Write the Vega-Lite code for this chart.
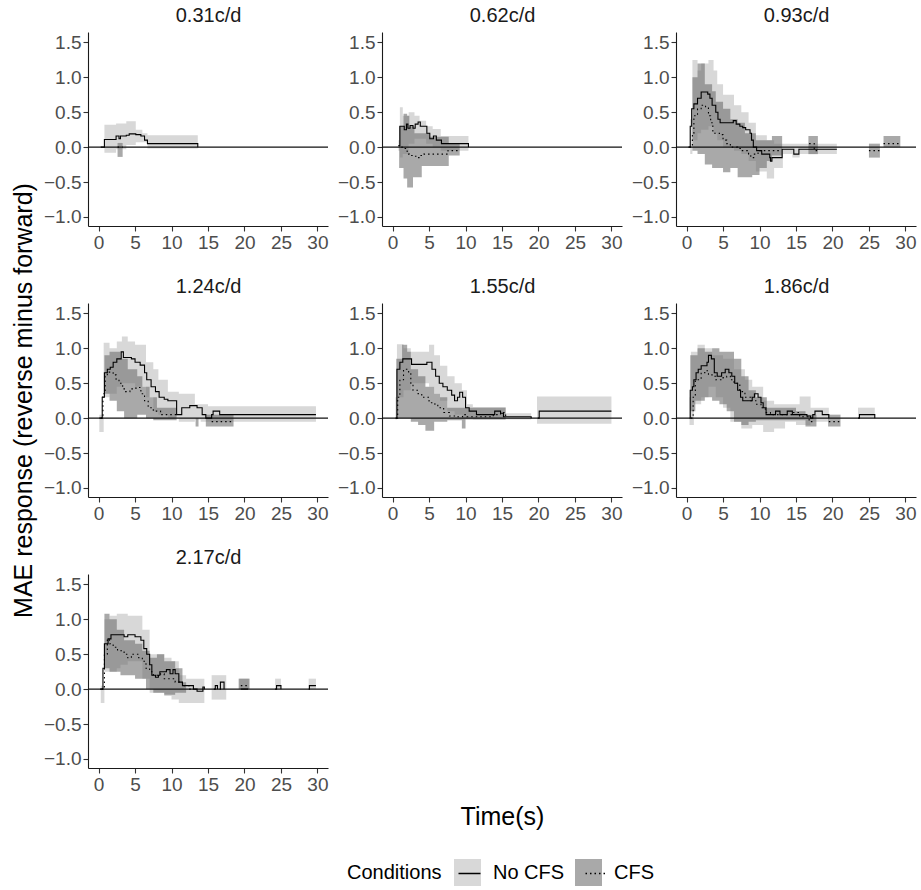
{
"$schema": "https://vega.github.io/schema/vega-lite/v6.json",
"padding": {"left": 11, "top": 5, "right": 2, "bottom": 3},
"config": {
  "font": "Liberation Sans",
  "view": {"stroke": null},
  "axis": {"grid": false, "domainColor": "#1a1a1a", "tickColor": "#333333", "tickSize": 5, "labelFontSize": 19, "labelColor": "#4d4d4d", "labelPadding": 2, "titleFontSize": 25, "titleFontWeight": "normal", "titleColor": "#000000", "domainWidth": 1.1, "tickWidth": 1.1, "tickCount": 12},
  "legend": {"orient": "none", "legendX": 259, "legendY": 827, "direction": "horizontal", "titleOrient": "left", "titleFontSize": 20, "titleFontWeight": "normal", "titleColor": "#000000", "labelFontSize": 20, "labelColor": "#000000", "symbolSize": 729, "columnPadding": 10, "labelOffset": 12, "titlePadding": 12}
},
"data": {"values": [
{"p":"0.31c/d","c":"No CFS","k":"l","s":1,"t":0.3,"m":0},{"p":"0.31c/d","c":"No CFS","k":"l","s":1,"t":0.8,"m":0.11},{"p":"0.31c/d","c":"No CFS","k":"l","s":1,"t":2.4,"m":0.16},{"p":"0.31c/d","c":"No CFS","k":"l","s":1,"t":2.8,"m":0.12},{"p":"0.31c/d","c":"No CFS","k":"l","s":1,"t":3.0,"m":0.16},{"p":"0.31c/d","c":"No CFS","k":"l","s":1,"t":3.8,"m":0.17},{"p":"0.31c/d","c":"No CFS","k":"l","s":1,"t":4.2,"m":0.19},{"p":"0.31c/d","c":"No CFS","k":"l","s":1,"t":5.1,"m":0.18},{"p":"0.31c/d","c":"No CFS","k":"l","s":1,"t":5.8,"m":0.16},{"p":"0.31c/d","c":"No CFS","k":"l","s":1,"t":6.3,"m":0.1},{"p":"0.31c/d","c":"No CFS","k":"l","s":1,"t":6.7,"m":0.05},{"p":"0.31c/d","c":"No CFS","k":"l","s":1,"t":13.6,"m":0},
{"p":"0.31c/d","c":"No CFS","k":"b","s":1,"t":0.8,"lo":-0.08,"hi":0.32},{"p":"0.31c/d","c":"No CFS","k":"b","s":1,"t":2.4,"lo":-0.03,"hi":0.34},{"p":"0.31c/d","c":"No CFS","k":"b","s":1,"t":3.8,"lo":0.03,"hi":0.37},{"p":"0.31c/d","c":"No CFS","k":"b","s":1,"t":5.1,"lo":0.07,"hi":0.25},{"p":"0.31c/d","c":"No CFS","k":"b","s":1,"t":6.0,"lo":0.07,"hi":0.2},{"p":"0.31c/d","c":"No CFS","k":"b","s":1,"t":6.7,"lo":-0.02,"hi":0.17},{"p":"0.31c/d","c":"No CFS","k":"b","s":1,"t":13.6,"lo":-0.02,"hi":0.17},
{"p":"0.31c/d","c":"CFS","k":"l","s":1,"t":2.6,"m":0},{"p":"0.31c/d","c":"CFS","k":"l","s":1,"t":3.3,"m":0},
{"p":"0.31c/d","c":"CFS","k":"b","s":1,"t":2.6,"lo":-0.14,"hi":0.06},{"p":"0.31c/d","c":"CFS","k":"b","s":1,"t":3.3,"lo":-0.14,"hi":0.06},

{"p":"0.62c/d","c":"No CFS","k":"l","s":1,"t":0.8,"m":0.02},{"p":"0.62c/d","c":"No CFS","k":"l","s":1,"t":1.0,"m":0.3},{"p":"0.62c/d","c":"No CFS","k":"l","s":1,"t":1.6,"m":0.25},{"p":"0.62c/d","c":"No CFS","k":"l","s":1,"t":1.9,"m":0.33},{"p":"0.62c/d","c":"No CFS","k":"l","s":1,"t":2.1,"m":0.27},{"p":"0.62c/d","c":"No CFS","k":"l","s":1,"t":2.4,"m":0.31},{"p":"0.62c/d","c":"No CFS","k":"l","s":1,"t":2.8,"m":0.27},{"p":"0.62c/d","c":"No CFS","k":"l","s":1,"t":3.1,"m":0.33},{"p":"0.62c/d","c":"No CFS","k":"l","s":1,"t":3.5,"m":0.36},{"p":"0.62c/d","c":"No CFS","k":"l","s":1,"t":3.8,"m":0.3},{"p":"0.62c/d","c":"No CFS","k":"l","s":1,"t":4.7,"m":0.2},{"p":"0.62c/d","c":"No CFS","k":"l","s":1,"t":5.1,"m":0.12},{"p":"0.62c/d","c":"No CFS","k":"l","s":1,"t":5.6,"m":0.16},{"p":"0.62c/d","c":"No CFS","k":"l","s":1,"t":6.0,"m":0.1},{"p":"0.62c/d","c":"No CFS","k":"l","s":1,"t":6.7,"m":0.05},{"p":"0.62c/d","c":"No CFS","k":"l","s":1,"t":10.4,"m":0},
{"p":"0.62c/d","c":"No CFS","k":"b","s":1,"t":0.8,"lo":-0.05,"hi":0.1},{"p":"0.62c/d","c":"No CFS","k":"b","s":1,"t":1.0,"lo":-0.15,"hi":0.57},{"p":"0.62c/d","c":"No CFS","k":"b","s":1,"t":1.4,"lo":-0.1,"hi":0.45},{"p":"0.62c/d","c":"No CFS","k":"b","s":1,"t":2.2,"lo":0.05,"hi":0.5},{"p":"0.62c/d","c":"No CFS","k":"b","s":1,"t":3.0,"lo":0.12,"hi":0.45},{"p":"0.62c/d","c":"No CFS","k":"b","s":1,"t":3.7,"lo":0.12,"hi":0.38},{"p":"0.62c/d","c":"No CFS","k":"b","s":1,"t":4.6,"lo":0.05,"hi":0.3},{"p":"0.62c/d","c":"No CFS","k":"b","s":1,"t":5.5,"lo":0.0,"hi":0.26},{"p":"0.62c/d","c":"No CFS","k":"b","s":1,"t":6.6,"lo":-0.05,"hi":0.16},{"p":"0.62c/d","c":"No CFS","k":"b","s":1,"t":10.4,"lo":-0.05,"hi":0.16},
{"p":"0.62c/d","c":"CFS","k":"l","s":1,"t":0.8,"m":0.02},{"p":"0.62c/d","c":"CFS","k":"l","s":1,"t":1.3,"m":-0.02},{"p":"0.62c/d","c":"CFS","k":"l","s":1,"t":2.0,"m":-0.1},{"p":"0.62c/d","c":"CFS","k":"l","s":1,"t":2.3,"m":-0.12},{"p":"0.62c/d","c":"CFS","k":"l","s":1,"t":3.0,"m":-0.13},{"p":"0.62c/d","c":"CFS","k":"l","s":1,"t":3.4,"m":-0.15},{"p":"0.62c/d","c":"CFS","k":"l","s":1,"t":3.8,"m":-0.12},{"p":"0.62c/d","c":"CFS","k":"l","s":1,"t":4.3,"m":-0.1},{"p":"0.62c/d","c":"CFS","k":"l","s":1,"t":7.6,"m":-0.05},{"p":"0.62c/d","c":"CFS","k":"l","s":1,"t":9.2,"m":-0.05},
{"p":"0.62c/d","c":"CFS","k":"b","s":1,"t":0.9,"lo":-0.3,"hi":0.3},{"p":"0.62c/d","c":"CFS","k":"b","s":1,"t":1.5,"lo":-0.45,"hi":0.48},{"p":"0.62c/d","c":"CFS","k":"b","s":1,"t":2.0,"lo":-0.58,"hi":0.45},{"p":"0.62c/d","c":"CFS","k":"b","s":1,"t":2.3,"lo":-0.58,"hi":0.3},{"p":"0.62c/d","c":"CFS","k":"b","s":1,"t":2.8,"lo":-0.43,"hi":0.3},{"p":"0.62c/d","c":"CFS","k":"b","s":1,"t":3.0,"lo":-0.43,"hi":0.2},{"p":"0.62c/d","c":"CFS","k":"b","s":1,"t":4.0,"lo":-0.27,"hi":0.2},{"p":"0.62c/d","c":"CFS","k":"b","s":1,"t":5.0,"lo":-0.27,"hi":0.15},{"p":"0.62c/d","c":"CFS","k":"b","s":1,"t":7.7,"lo":-0.12,"hi":0.05},{"p":"0.62c/d","c":"CFS","k":"b","s":1,"t":9.2,"lo":-0.12,"hi":0.05},

{"p":"0.93c/d","c":"No CFS","k":"l","s":1,"t":0.25,"m":0},{"p":"0.93c/d","c":"No CFS","k":"l","s":1,"t":0.5,"m":0.3},{"p":"0.93c/d","c":"No CFS","k":"l","s":1,"t":0.7,"m":0.55},{"p":"0.93c/d","c":"No CFS","k":"l","s":1,"t":1.0,"m":0.62},{"p":"0.93c/d","c":"No CFS","k":"l","s":1,"t":1.5,"m":0.7},{"p":"0.93c/d","c":"No CFS","k":"l","s":1,"t":2.0,"m":0.79},{"p":"0.93c/d","c":"No CFS","k":"l","s":1,"t":2.9,"m":0.76},{"p":"0.93c/d","c":"No CFS","k":"l","s":1,"t":3.2,"m":0.7},{"p":"0.93c/d","c":"No CFS","k":"l","s":1,"t":3.5,"m":0.6},{"p":"0.93c/d","c":"No CFS","k":"l","s":1,"t":4.0,"m":0.5},{"p":"0.93c/d","c":"No CFS","k":"l","s":1,"t":4.3,"m":0.4},{"p":"0.93c/d","c":"No CFS","k":"l","s":1,"t":4.6,"m":0.35},{"p":"0.93c/d","c":"No CFS","k":"l","s":1,"t":6.4,"m":0.38},{"p":"0.93c/d","c":"No CFS","k":"l","s":1,"t":6.8,"m":0.33},{"p":"0.93c/d","c":"No CFS","k":"l","s":1,"t":7.3,"m":0.3},{"p":"0.93c/d","c":"No CFS","k":"l","s":1,"t":7.7,"m":0.28},{"p":"0.93c/d","c":"No CFS","k":"l","s":1,"t":8.1,"m":0.25},{"p":"0.93c/d","c":"No CFS","k":"l","s":1,"t":8.7,"m":0.2},{"p":"0.93c/d","c":"No CFS","k":"l","s":1,"t":8.9,"m":0.1},{"p":"0.93c/d","c":"No CFS","k":"l","s":1,"t":9.15,"m":0.0},{"p":"0.93c/d","c":"No CFS","k":"l","s":1,"t":9.6,"m":-0.05},{"p":"0.93c/d","c":"No CFS","k":"l","s":1,"t":10.3,"m":-0.1},{"p":"0.93c/d","c":"No CFS","k":"l","s":1,"t":11.4,"m":-0.15},{"p":"0.93c/d","c":"No CFS","k":"l","s":1,"t":11.5,"m":-0.2},{"p":"0.93c/d","c":"No CFS","k":"l","s":1,"t":11.7,"m":-0.15},{"p":"0.93c/d","c":"No CFS","k":"l","s":1,"t":13.1,"m":-0.03},{"p":"0.93c/d","c":"No CFS","k":"l","s":1,"t":14.7,"m":-0.1},{"p":"0.93c/d","c":"No CFS","k":"l","s":1,"t":15.4,"m":-0.03},{"p":"0.93c/d","c":"No CFS","k":"l","s":1,"t":20.6,"m":-0.03},
{"p":"0.93c/d","c":"No CFS","k":"b","s":1,"t":0.5,"lo":-0.1,"hi":0.4},{"p":"0.93c/d","c":"No CFS","k":"b","s":1,"t":0.8,"lo":0.1,"hi":1.25},{"p":"0.93c/d","c":"No CFS","k":"b","s":1,"t":1.5,"lo":0.2,"hi":1.1},{"p":"0.93c/d","c":"No CFS","k":"b","s":1,"t":2.0,"lo":0.25,"hi":1.2},{"p":"0.93c/d","c":"No CFS","k":"b","s":1,"t":3.0,"lo":0.3,"hi":1.25},{"p":"0.93c/d","c":"No CFS","k":"b","s":1,"t":3.7,"lo":0.2,"hi":1.1},{"p":"0.93c/d","c":"No CFS","k":"b","s":1,"t":4.2,"lo":0.1,"hi":0.9},{"p":"0.93c/d","c":"No CFS","k":"b","s":1,"t":5.0,"lo":0.0,"hi":0.75},{"p":"0.93c/d","c":"No CFS","k":"b","s":1,"t":6.5,"lo":-0.05,"hi":0.6},{"p":"0.93c/d","c":"No CFS","k":"b","s":1,"t":7.5,"lo":-0.1,"hi":0.5},{"p":"0.93c/d","c":"No CFS","k":"b","s":1,"t":8.5,"lo":-0.2,"hi":0.35},{"p":"0.93c/d","c":"No CFS","k":"b","s":1,"t":9.5,"lo":-0.35,"hi":0.17},{"p":"0.93c/d","c":"No CFS","k":"b","s":1,"t":11.0,"lo":-0.45,"hi":0.1},{"p":"0.93c/d","c":"No CFS","k":"b","s":1,"t":12.0,"lo":-0.3,"hi":0.05},{"p":"0.93c/d","c":"No CFS","k":"b","s":1,"t":13.2,"lo":-0.1,"hi":0.05},{"p":"0.93c/d","c":"No CFS","k":"b","s":1,"t":14.5,"lo":-0.15,"hi":0.05},{"p":"0.93c/d","c":"No CFS","k":"b","s":1,"t":15.5,"lo":-0.1,"hi":0.05},{"p":"0.93c/d","c":"No CFS","k":"b","s":1,"t":20.6,"lo":-0.1,"hi":0.05},
{"p":"0.93c/d","c":"CFS","k":"l","s":1,"t":0.4,"m":0},{"p":"0.93c/d","c":"CFS","k":"l","s":1,"t":0.8,"m":0.2},{"p":"0.93c/d","c":"CFS","k":"l","s":1,"t":1.0,"m":0.45},{"p":"0.93c/d","c":"CFS","k":"l","s":1,"t":1.5,"m":0.55},{"p":"0.93c/d","c":"CFS","k":"l","s":1,"t":2.0,"m":0.6},{"p":"0.93c/d","c":"CFS","k":"l","s":1,"t":2.6,"m":0.57},{"p":"0.93c/d","c":"CFS","k":"l","s":1,"t":3.0,"m":0.45},{"p":"0.93c/d","c":"CFS","k":"l","s":1,"t":3.3,"m":0.35},{"p":"0.93c/d","c":"CFS","k":"l","s":1,"t":3.6,"m":0.2},{"p":"0.93c/d","c":"CFS","k":"l","s":1,"t":4.5,"m":0.18},{"p":"0.93c/d","c":"CFS","k":"l","s":1,"t":5.0,"m":0.1},{"p":"0.93c/d","c":"CFS","k":"l","s":1,"t":5.5,"m":0.05},{"p":"0.93c/d","c":"CFS","k":"l","s":1,"t":6.0,"m":0.0},{"p":"0.93c/d","c":"CFS","k":"l","s":1,"t":7.0,"m":-0.02},{"p":"0.93c/d","c":"CFS","k":"l","s":1,"t":7.5,"m":-0.05},{"p":"0.93c/d","c":"CFS","k":"l","s":1,"t":8.5,"m":-0.1},{"p":"0.93c/d","c":"CFS","k":"l","s":1,"t":8.8,"m":-0.15},{"p":"0.93c/d","c":"CFS","k":"l","s":1,"t":9.2,"m":-0.1},{"p":"0.93c/d","c":"CFS","k":"l","s":1,"t":9.8,"m":-0.05},{"p":"0.93c/d","c":"CFS","k":"l","s":1,"t":13.0,"m":-0.05},
{"p":"0.93c/d","c":"CFS","k":"l","s":2,"t":16.8,"m":0.05},{"p":"0.93c/d","c":"CFS","k":"l","s":2,"t":17.5,"m":-0.05},{"p":"0.93c/d","c":"CFS","k":"l","s":2,"t":18.0,"m":-0.05},
{"p":"0.93c/d","c":"CFS","k":"l","s":3,"t":25.0,"m":-0.05},{"p":"0.93c/d","c":"CFS","k":"l","s":3,"t":26.5,"m":-0.05},
{"p":"0.93c/d","c":"CFS","k":"l","s":4,"t":27.0,"m":0.05},{"p":"0.93c/d","c":"CFS","k":"l","s":4,"t":29.3,"m":0.05},
{"p":"0.93c/d","c":"CFS","k":"b","s":1,"t":0.8,"lo":-0.05,"hi":1.0},{"p":"0.93c/d","c":"CFS","k":"b","s":1,"t":1.5,"lo":-0.1,"hi":1.2},{"p":"0.93c/d","c":"CFS","k":"b","s":1,"t":2.5,"lo":-0.25,"hi":0.9},{"p":"0.93c/d","c":"CFS","k":"b","s":1,"t":3.5,"lo":-0.3,"hi":0.8},{"p":"0.93c/d","c":"CFS","k":"b","s":1,"t":4.0,"lo":-0.3,"hi":0.65},{"p":"0.93c/d","c":"CFS","k":"b","s":1,"t":5.0,"lo":-0.36,"hi":0.55},{"p":"0.93c/d","c":"CFS","k":"b","s":1,"t":6.0,"lo":-0.3,"hi":0.4},{"p":"0.93c/d","c":"CFS","k":"b","s":1,"t":7.0,"lo":-0.43,"hi":0.35},{"p":"0.93c/d","c":"CFS","k":"b","s":1,"t":8.0,"lo":-0.43,"hi":0.2},{"p":"0.93c/d","c":"CFS","k":"b","s":1,"t":9.0,"lo":-0.4,"hi":0.2},{"p":"0.93c/d","c":"CFS","k":"b","s":1,"t":9.5,"lo":-0.4,"hi":0.1},{"p":"0.93c/d","c":"CFS","k":"b","s":1,"t":10.0,"lo":-0.3,"hi":0.1},{"p":"0.93c/d","c":"CFS","k":"b","s":1,"t":11.0,"lo":-0.2,"hi":0.1},{"p":"0.93c/d","c":"CFS","k":"b","s":1,"t":11.7,"lo":-0.12,"hi":0.16},{"p":"0.93c/d","c":"CFS","k":"b","s":1,"t":13.1,"lo":-0.12,"hi":0.16},
{"p":"0.93c/d","c":"CFS","k":"b","s":2,"t":16.7,"lo":-0.1,"hi":0.16},{"p":"0.93c/d","c":"CFS","k":"b","s":2,"t":18.0,"lo":-0.1,"hi":0.16},
{"p":"0.93c/d","c":"CFS","k":"b","s":3,"t":25.0,"lo":-0.15,"hi":0.05},{"p":"0.93c/d","c":"CFS","k":"b","s":3,"t":26.5,"lo":-0.15,"hi":0.05},
{"p":"0.93c/d","c":"CFS","k":"b","s":4,"t":27.0,"lo":0.0,"hi":0.16},{"p":"0.93c/d","c":"CFS","k":"b","s":4,"t":29.3,"lo":0.0,"hi":0.16},

{"p":"1.24c/d","c":"No CFS","k":"l","s":1,"t":0.1,"m":0},{"p":"1.24c/d","c":"No CFS","k":"l","s":1,"t":0.5,"m":0.3},{"p":"1.24c/d","c":"No CFS","k":"l","s":1,"t":0.8,"m":0.65},{"p":"1.24c/d","c":"No CFS","k":"l","s":1,"t":1.2,"m":0.7},{"p":"1.24c/d","c":"No CFS","k":"l","s":1,"t":1.6,"m":0.73},{"p":"1.24c/d","c":"No CFS","k":"l","s":1,"t":2.0,"m":0.8},{"p":"1.24c/d","c":"No CFS","k":"l","s":1,"t":2.5,"m":0.85},{"p":"1.24c/d","c":"No CFS","k":"l","s":1,"t":3.1,"m":0.95},{"p":"1.24c/d","c":"No CFS","k":"l","s":1,"t":3.4,"m":0.87},{"p":"1.24c/d","c":"No CFS","k":"l","s":1,"t":4.5,"m":0.85},{"p":"1.24c/d","c":"No CFS","k":"l","s":1,"t":5.0,"m":0.8},{"p":"1.24c/d","c":"No CFS","k":"l","s":1,"t":5.7,"m":0.76},{"p":"1.24c/d","c":"No CFS","k":"l","s":1,"t":6.3,"m":0.65},{"p":"1.24c/d","c":"No CFS","k":"l","s":1,"t":6.6,"m":0.55},{"p":"1.24c/d","c":"No CFS","k":"l","s":1,"t":7.2,"m":0.45},{"p":"1.24c/d","c":"No CFS","k":"l","s":1,"t":7.8,"m":0.38},{"p":"1.24c/d","c":"No CFS","k":"l","s":1,"t":8.3,"m":0.3},{"p":"1.24c/d","c":"No CFS","k":"l","s":1,"t":9.0,"m":0.27},{"p":"1.24c/d","c":"No CFS","k":"l","s":1,"t":9.5,"m":0.25},{"p":"1.24c/d","c":"No CFS","k":"l","s":1,"t":10.7,"m":0.05},{"p":"1.24c/d","c":"No CFS","k":"l","s":1,"t":11.4,"m":0.15},{"p":"1.24c/d","c":"No CFS","k":"l","s":1,"t":12.5,"m":0.18},{"p":"1.24c/d","c":"No CFS","k":"l","s":1,"t":13.5,"m":0.15},{"p":"1.24c/d","c":"No CFS","k":"l","s":1,"t":14.2,"m":0.05},{"p":"1.24c/d","c":"No CFS","k":"l","s":1,"t":14.7,"m":0.0},{"p":"1.24c/d","c":"No CFS","k":"l","s":1,"t":15.5,"m":0.05},{"p":"1.24c/d","c":"No CFS","k":"l","s":1,"t":15.7,"m":0.1},{"p":"1.24c/d","c":"No CFS","k":"l","s":1,"t":16.6,"m":0.05},{"p":"1.24c/d","c":"No CFS","k":"l","s":1,"t":29.8,"m":0.05},
{"p":"1.24c/d","c":"No CFS","k":"b","s":1,"t":0.1,"lo":-0.2,"hi":0.05},{"p":"1.24c/d","c":"No CFS","k":"b","s":1,"t":0.7,"lo":0.3,"hi":1.08},{"p":"1.24c/d","c":"No CFS","k":"b","s":1,"t":1.5,"lo":0.35,"hi":1.0},{"p":"1.24c/d","c":"No CFS","k":"b","s":1,"t":2.5,"lo":0.45,"hi":1.1},{"p":"1.24c/d","c":"No CFS","k":"b","s":1,"t":3.2,"lo":0.5,"hi":1.17},{"p":"1.24c/d","c":"No CFS","k":"b","s":1,"t":4.0,"lo":0.5,"hi":1.1},{"p":"1.24c/d","c":"No CFS","k":"b","s":1,"t":5.0,"lo":0.45,"hi":1.05},{"p":"1.24c/d","c":"No CFS","k":"b","s":1,"t":6.5,"lo":0.3,"hi":0.8},{"p":"1.24c/d","c":"No CFS","k":"b","s":1,"t":7.5,"lo":0.1,"hi":0.7},{"p":"1.24c/d","c":"No CFS","k":"b","s":1,"t":8.2,"lo":0.05,"hi":0.55},{"p":"1.24c/d","c":"No CFS","k":"b","s":1,"t":9.5,"lo":0.0,"hi":0.38},{"p":"1.24c/d","c":"No CFS","k":"b","s":1,"t":11.0,"lo":-0.05,"hi":0.35},{"p":"1.24c/d","c":"No CFS","k":"b","s":1,"t":13.2,"lo":-0.02,"hi":0.2},{"p":"1.24c/d","c":"No CFS","k":"b","s":1,"t":14.0,"lo":-0.05,"hi":0.2},{"p":"1.24c/d","c":"No CFS","k":"b","s":1,"t":15.0,"lo":-0.05,"hi":0.17},{"p":"1.24c/d","c":"No CFS","k":"b","s":1,"t":29.8,"lo":-0.05,"hi":0.17},
{"p":"1.24c/d","c":"CFS","k":"l","s":1,"t":0.3,"m":0},{"p":"1.24c/d","c":"CFS","k":"l","s":1,"t":0.6,"m":0.35},{"p":"1.24c/d","c":"CFS","k":"l","s":1,"t":0.9,"m":0.6},{"p":"1.24c/d","c":"CFS","k":"l","s":1,"t":1.2,"m":0.66},{"p":"1.24c/d","c":"CFS","k":"l","s":1,"t":2.0,"m":0.62},{"p":"1.24c/d","c":"CFS","k":"l","s":1,"t":2.4,"m":0.55},{"p":"1.24c/d","c":"CFS","k":"l","s":1,"t":2.8,"m":0.5},{"p":"1.24c/d","c":"CFS","k":"l","s":1,"t":3.3,"m":0.42},{"p":"1.24c/d","c":"CFS","k":"l","s":1,"t":3.7,"m":0.38},{"p":"1.24c/d","c":"CFS","k":"l","s":1,"t":4.3,"m":0.42},{"p":"1.24c/d","c":"CFS","k":"l","s":1,"t":4.8,"m":0.43},{"p":"1.24c/d","c":"CFS","k":"l","s":1,"t":5.3,"m":0.44},{"p":"1.24c/d","c":"CFS","k":"l","s":1,"t":5.8,"m":0.35},{"p":"1.24c/d","c":"CFS","k":"l","s":1,"t":6.3,"m":0.25},{"p":"1.24c/d","c":"CFS","k":"l","s":1,"t":6.8,"m":0.15},{"p":"1.24c/d","c":"CFS","k":"l","s":1,"t":7.5,"m":0.1},{"p":"1.24c/d","c":"CFS","k":"l","s":1,"t":8.5,"m":0.05},{"p":"1.24c/d","c":"CFS","k":"l","s":1,"t":10.7,"m":0.05},
{"p":"1.24c/d","c":"CFS","k":"l","s":2,"t":15.5,"m":-0.05},{"p":"1.24c/d","c":"CFS","k":"l","s":2,"t":18.3,"m":-0.05},
{"p":"1.24c/d","c":"CFS","k":"b","s":1,"t":0.8,"lo":0.35,"hi":0.9},{"p":"1.24c/d","c":"CFS","k":"b","s":1,"t":1.5,"lo":0.25,"hi":0.95},{"p":"1.24c/d","c":"CFS","k":"b","s":1,"t":2.5,"lo":0.1,"hi":0.95},{"p":"1.24c/d","c":"CFS","k":"b","s":1,"t":3.0,"lo":0.1,"hi":0.85},{"p":"1.24c/d","c":"CFS","k":"b","s":1,"t":3.5,"lo":0.0,"hi":0.85},{"p":"1.24c/d","c":"CFS","k":"b","s":1,"t":4.0,"lo":0.0,"hi":0.7},{"p":"1.24c/d","c":"CFS","k":"b","s":1,"t":5.3,"lo":0.05,"hi":0.6},{"p":"1.24c/d","c":"CFS","k":"b","s":1,"t":6.0,"lo":0.05,"hi":0.45},{"p":"1.24c/d","c":"CFS","k":"b","s":1,"t":6.5,"lo":0.0,"hi":0.45},{"p":"1.24c/d","c":"CFS","k":"b","s":1,"t":7.0,"lo":0.0,"hi":0.3},{"p":"1.24c/d","c":"CFS","k":"b","s":1,"t":7.5,"lo":-0.03,"hi":0.3},{"p":"1.24c/d","c":"CFS","k":"b","s":1,"t":8.0,"lo":-0.03,"hi":0.15},{"p":"1.24c/d","c":"CFS","k":"b","s":1,"t":10.7,"lo":-0.03,"hi":0.15},
{"p":"1.24c/d","c":"CFS","k":"b","s":2,"t":13.3,"lo":-0.12,"hi":0.0},{"p":"1.24c/d","c":"CFS","k":"b","s":2,"t":13.7,"lo":-0.12,"hi":0.0},
{"p":"1.24c/d","c":"CFS","k":"b","s":3,"t":14.7,"lo":-0.12,"hi":0.05},{"p":"1.24c/d","c":"CFS","k":"b","s":3,"t":18.5,"lo":-0.12,"hi":0.05},

{"p":"1.55c/d","c":"No CFS","k":"l","s":1,"t":0.4,"m":0},{"p":"1.55c/d","c":"No CFS","k":"l","s":1,"t":0.6,"m":0.7},{"p":"1.55c/d","c":"No CFS","k":"l","s":1,"t":1.0,"m":0.8},{"p":"1.55c/d","c":"No CFS","k":"l","s":1,"t":1.4,"m":0.85},{"p":"1.55c/d","c":"No CFS","k":"l","s":1,"t":2.6,"m":0.77},{"p":"1.55c/d","c":"No CFS","k":"l","s":1,"t":4.7,"m":0.8},{"p":"1.55c/d","c":"No CFS","k":"l","s":1,"t":5.4,"m":0.7},{"p":"1.55c/d","c":"No CFS","k":"l","s":1,"t":5.9,"m":0.6},{"p":"1.55c/d","c":"No CFS","k":"l","s":1,"t":6.4,"m":0.5},{"p":"1.55c/d","c":"No CFS","k":"l","s":1,"t":6.9,"m":0.45},{"p":"1.55c/d","c":"No CFS","k":"l","s":1,"t":7.5,"m":0.4},{"p":"1.55c/d","c":"No CFS","k":"l","s":1,"t":8.1,"m":0.33},{"p":"1.55c/d","c":"No CFS","k":"l","s":1,"t":8.5,"m":0.25},{"p":"1.55c/d","c":"No CFS","k":"l","s":1,"t":8.9,"m":0.3},{"p":"1.55c/d","c":"No CFS","k":"l","s":1,"t":9.2,"m":0.37},{"p":"1.55c/d","c":"No CFS","k":"l","s":1,"t":9.6,"m":0.3},{"p":"1.55c/d","c":"No CFS","k":"l","s":1,"t":10.0,"m":0.15},{"p":"1.55c/d","c":"No CFS","k":"l","s":1,"t":10.5,"m":0.1},{"p":"1.55c/d","c":"No CFS","k":"l","s":1,"t":11.5,"m":0.05},{"p":"1.55c/d","c":"No CFS","k":"l","s":1,"t":13.5,"m":0.05},{"p":"1.55c/d","c":"No CFS","k":"l","s":1,"t":14.0,"m":0.1},{"p":"1.55c/d","c":"No CFS","k":"l","s":1,"t":14.8,"m":0.07},{"p":"1.55c/d","c":"No CFS","k":"l","s":1,"t":15.2,"m":0.02},{"p":"1.55c/d","c":"No CFS","k":"l","s":1,"t":19.0,"m":0},
{"p":"1.55c/d","c":"No CFS","k":"l","s":2,"t":19.9,"m":0},{"p":"1.55c/d","c":"No CFS","k":"l","s":2,"t":20.1,"m":0.1},{"p":"1.55c/d","c":"No CFS","k":"l","s":2,"t":30.0,"m":0.1},
{"p":"1.55c/d","c":"No CFS","k":"b","s":1,"t":0.4,"lo":-0.02,"hi":0.3},{"p":"1.55c/d","c":"No CFS","k":"b","s":1,"t":0.6,"lo":0.3,"hi":1.06},{"p":"1.55c/d","c":"No CFS","k":"b","s":1,"t":1.5,"lo":0.4,"hi":1.0},{"p":"1.55c/d","c":"No CFS","k":"b","s":1,"t":2.5,"lo":0.5,"hi":0.95},{"p":"1.55c/d","c":"No CFS","k":"b","s":1,"t":5.0,"lo":0.45,"hi":1.05},{"p":"1.55c/d","c":"No CFS","k":"b","s":1,"t":5.7,"lo":0.35,"hi":0.9},{"p":"1.55c/d","c":"No CFS","k":"b","s":1,"t":6.5,"lo":0.25,"hi":0.75},{"p":"1.55c/d","c":"No CFS","k":"b","s":1,"t":7.5,"lo":0.1,"hi":0.6},{"p":"1.55c/d","c":"No CFS","k":"b","s":1,"t":8.5,"lo":0.05,"hi":0.5},{"p":"1.55c/d","c":"No CFS","k":"b","s":1,"t":9.5,"lo":0.0,"hi":0.4},{"p":"1.55c/d","c":"No CFS","k":"b","s":1,"t":10.2,"lo":0.0,"hi":0.2},{"p":"1.55c/d","c":"No CFS","k":"b","s":1,"t":11.0,"lo":-0.02,"hi":0.16},{"p":"1.55c/d","c":"No CFS","k":"b","s":1,"t":15.5,"lo":-0.02,"hi":0.07},{"p":"1.55c/d","c":"No CFS","k":"b","s":1,"t":19.0,"lo":-0.02,"hi":0.07},
{"p":"1.55c/d","c":"No CFS","k":"b","s":2,"t":19.8,"lo":-0.08,"hi":0.31},{"p":"1.55c/d","c":"No CFS","k":"b","s":2,"t":30.0,"lo":-0.08,"hi":0.31},
{"p":"1.55c/d","c":"CFS","k":"l","s":1,"t":0.5,"m":0},{"p":"1.55c/d","c":"CFS","k":"l","s":1,"t":0.7,"m":0.3},{"p":"1.55c/d","c":"CFS","k":"l","s":1,"t":1.0,"m":0.55},{"p":"1.55c/d","c":"CFS","k":"l","s":1,"t":1.5,"m":0.7},{"p":"1.55c/d","c":"CFS","k":"l","s":1,"t":2.2,"m":0.65},{"p":"1.55c/d","c":"CFS","k":"l","s":1,"t":2.5,"m":0.5},{"p":"1.55c/d","c":"CFS","k":"l","s":1,"t":2.8,"m":0.4},{"p":"1.55c/d","c":"CFS","k":"l","s":1,"t":3.5,"m":0.35},{"p":"1.55c/d","c":"CFS","k":"l","s":1,"t":4.0,"m":0.3},{"p":"1.55c/d","c":"CFS","k":"l","s":1,"t":5.0,"m":0.22},{"p":"1.55c/d","c":"CFS","k":"l","s":1,"t":5.8,"m":0.2},{"p":"1.55c/d","c":"CFS","k":"l","s":1,"t":6.2,"m":0.15},{"p":"1.55c/d","c":"CFS","k":"l","s":1,"t":7.0,"m":0.08},{"p":"1.55c/d","c":"CFS","k":"l","s":1,"t":7.8,"m":0.03},{"p":"1.55c/d","c":"CFS","k":"l","s":1,"t":8.8,"m":0.02},{"p":"1.55c/d","c":"CFS","k":"l","s":1,"t":9.6,"m":0.05},{"p":"1.55c/d","c":"CFS","k":"l","s":1,"t":10.2,"m":0.02},{"p":"1.55c/d","c":"CFS","k":"l","s":1,"t":13.8,"m":0.05},{"p":"1.55c/d","c":"CFS","k":"l","s":1,"t":14.8,"m":0.08},{"p":"1.55c/d","c":"CFS","k":"l","s":1,"t":15.5,"m":0.02},
{"p":"1.55c/d","c":"CFS","k":"b","s":1,"t":0.5,"lo":0.0,"hi":0.85},{"p":"1.55c/d","c":"CFS","k":"b","s":1,"t":1.3,"lo":0.0,"hi":1.05},{"p":"1.55c/d","c":"CFS","k":"b","s":1,"t":2.0,"lo":0.0,"hi":0.95},{"p":"1.55c/d","c":"CFS","k":"b","s":1,"t":2.5,"lo":-0.05,"hi":0.7},{"p":"1.55c/d","c":"CFS","k":"b","s":1,"t":3.5,"lo":-0.1,"hi":0.6},{"p":"1.55c/d","c":"CFS","k":"b","s":1,"t":4.5,"lo":-0.18,"hi":0.45},{"p":"1.55c/d","c":"CFS","k":"b","s":1,"t":5.7,"lo":-0.05,"hi":0.35},{"p":"1.55c/d","c":"CFS","k":"b","s":1,"t":6.5,"lo":-0.05,"hi":0.3},{"p":"1.55c/d","c":"CFS","k":"b","s":1,"t":7.5,"lo":-0.03,"hi":0.15},{"p":"1.55c/d","c":"CFS","k":"b","s":1,"t":9.5,"lo":-0.15,"hi":0.15},{"p":"1.55c/d","c":"CFS","k":"b","s":1,"t":10.0,"lo":-0.02,"hi":0.15},{"p":"1.55c/d","c":"CFS","k":"b","s":1,"t":15.5,"lo":-0.02,"hi":0.15},

{"p":"1.86c/d","c":"No CFS","k":"l","s":1,"t":0.4,"m":0},{"p":"1.86c/d","c":"No CFS","k":"l","s":1,"t":0.5,"m":0.4},{"p":"1.86c/d","c":"No CFS","k":"l","s":1,"t":0.8,"m":0.45},{"p":"1.86c/d","c":"No CFS","k":"l","s":1,"t":1.0,"m":0.55},{"p":"1.86c/d","c":"No CFS","k":"l","s":1,"t":1.3,"m":0.65},{"p":"1.86c/d","c":"No CFS","k":"l","s":1,"t":1.6,"m":0.7},{"p":"1.86c/d","c":"No CFS","k":"l","s":1,"t":2.0,"m":0.75},{"p":"1.86c/d","c":"No CFS","k":"l","s":1,"t":2.8,"m":0.8},{"p":"1.86c/d","c":"No CFS","k":"l","s":1,"t":3.0,"m":0.9},{"p":"1.86c/d","c":"No CFS","k":"l","s":1,"t":3.4,"m":0.85},{"p":"1.86c/d","c":"No CFS","k":"l","s":1,"t":3.8,"m":0.65},{"p":"1.86c/d","c":"No CFS","k":"l","s":1,"t":4.2,"m":0.6},{"p":"1.86c/d","c":"No CFS","k":"l","s":1,"t":4.8,"m":0.65},{"p":"1.86c/d","c":"No CFS","k":"l","s":1,"t":5.3,"m":0.7},{"p":"1.86c/d","c":"No CFS","k":"l","s":1,"t":5.8,"m":0.65},{"p":"1.86c/d","c":"No CFS","k":"l","s":1,"t":6.2,"m":0.6},{"p":"1.86c/d","c":"No CFS","k":"l","s":1,"t":6.6,"m":0.5},{"p":"1.86c/d","c":"No CFS","k":"l","s":1,"t":7.0,"m":0.4},{"p":"1.86c/d","c":"No CFS","k":"l","s":1,"t":7.4,"m":0.3},{"p":"1.86c/d","c":"No CFS","k":"l","s":1,"t":7.7,"m":0.25},{"p":"1.86c/d","c":"No CFS","k":"l","s":1,"t":9.0,"m":0.3},{"p":"1.86c/d","c":"No CFS","k":"l","s":1,"t":9.3,"m":0.35},{"p":"1.86c/d","c":"No CFS","k":"l","s":1,"t":9.8,"m":0.3},{"p":"1.86c/d","c":"No CFS","k":"l","s":1,"t":10.2,"m":0.22},{"p":"1.86c/d","c":"No CFS","k":"l","s":1,"t":10.5,"m":0.15},{"p":"1.86c/d","c":"No CFS","k":"l","s":1,"t":10.9,"m":0.05},{"p":"1.86c/d","c":"No CFS","k":"l","s":1,"t":12.2,"m":0.1},{"p":"1.86c/d","c":"No CFS","k":"l","s":1,"t":12.8,"m":0.05},{"p":"1.86c/d","c":"No CFS","k":"l","s":1,"t":13.8,"m":0.1},{"p":"1.86c/d","c":"No CFS","k":"l","s":1,"t":14.5,"m":0.05},{"p":"1.86c/d","c":"No CFS","k":"l","s":1,"t":16.5,"m":0.03},{"p":"1.86c/d","c":"No CFS","k":"l","s":1,"t":17.0,"m":0.0},{"p":"1.86c/d","c":"No CFS","k":"l","s":1,"t":17.3,"m":0.05},{"p":"1.86c/d","c":"No CFS","k":"l","s":1,"t":17.6,"m":0.1},{"p":"1.86c/d","c":"No CFS","k":"l","s":1,"t":18.6,"m":0.05},{"p":"1.86c/d","c":"No CFS","k":"l","s":1,"t":19.5,"m":0},
{"p":"1.86c/d","c":"No CFS","k":"l","s":2,"t":23.5,"m":0},{"p":"1.86c/d","c":"No CFS","k":"l","s":2,"t":23.7,"m":0.05},{"p":"1.86c/d","c":"No CFS","k":"l","s":2,"t":25.6,"m":0.05},{"p":"1.86c/d","c":"No CFS","k":"l","s":2,"t":25.8,"m":0},
{"p":"1.86c/d","c":"No CFS","k":"b","s":1,"t":0.4,"lo":-0.1,"hi":0.3},{"p":"1.86c/d","c":"No CFS","k":"b","s":1,"t":0.6,"lo":-0.1,"hi":0.95},{"p":"1.86c/d","c":"No CFS","k":"b","s":1,"t":1.0,"lo":0.2,"hi":0.95},{"p":"1.86c/d","c":"No CFS","k":"b","s":1,"t":1.5,"lo":0.2,"hi":1.05},{"p":"1.86c/d","c":"No CFS","k":"b","s":1,"t":2.0,"lo":0.3,"hi":1.05},{"p":"1.86c/d","c":"No CFS","k":"b","s":1,"t":2.5,"lo":0.3,"hi":1.0},{"p":"1.86c/d","c":"No CFS","k":"b","s":1,"t":3.0,"lo":0.45,"hi":1.0},{"p":"1.86c/d","c":"No CFS","k":"b","s":1,"t":3.5,"lo":0.45,"hi":0.9},{"p":"1.86c/d","c":"No CFS","k":"b","s":1,"t":4.0,"lo":0.3,"hi":0.9},{"p":"1.86c/d","c":"No CFS","k":"b","s":1,"t":5.0,"lo":0.15,"hi":0.85},{"p":"1.86c/d","c":"No CFS","k":"b","s":1,"t":6.0,"lo":-0.05,"hi":0.85},{"p":"1.86c/d","c":"No CFS","k":"b","s":1,"t":6.5,"lo":-0.05,"hi":0.7},{"p":"1.86c/d","c":"No CFS","k":"b","s":1,"t":7.5,"lo":-0.15,"hi":0.7},{"p":"1.86c/d","c":"No CFS","k":"b","s":1,"t":8.0,"lo":-0.15,"hi":0.55},{"p":"1.86c/d","c":"No CFS","k":"b","s":1,"t":9.0,"lo":-0.1,"hi":0.45},{"p":"1.86c/d","c":"No CFS","k":"b","s":1,"t":10.5,"lo":-0.2,"hi":0.25},{"p":"1.86c/d","c":"No CFS","k":"b","s":1,"t":12.0,"lo":-0.15,"hi":0.2},{"p":"1.86c/d","c":"No CFS","k":"b","s":1,"t":13.5,"lo":-0.05,"hi":0.2},{"p":"1.86c/d","c":"No CFS","k":"b","s":1,"t":15.0,"lo":-0.1,"hi":0.2},{"p":"1.86c/d","c":"No CFS","k":"b","s":1,"t":15.5,"lo":-0.1,"hi":0.31},{"p":"1.86c/d","c":"No CFS","k":"b","s":1,"t":17.0,"lo":-0.05,"hi":0.15},{"p":"1.86c/d","c":"No CFS","k":"b","s":1,"t":19.5,"lo":-0.05,"hi":0.15},
{"p":"1.86c/d","c":"No CFS","k":"b","s":2,"t":23.5,"lo":0.0,"hi":0.15},{"p":"1.86c/d","c":"No CFS","k":"b","s":2,"t":25.8,"lo":0.0,"hi":0.15},
{"p":"1.86c/d","c":"CFS","k":"l","s":1,"t":0.6,"m":0},{"p":"1.86c/d","c":"CFS","k":"l","s":1,"t":0.9,"m":0.3},{"p":"1.86c/d","c":"CFS","k":"l","s":1,"t":1.2,"m":0.55},{"p":"1.86c/d","c":"CFS","k":"l","s":1,"t":2.0,"m":0.65},{"p":"1.86c/d","c":"CFS","k":"l","s":1,"t":2.5,"m":0.68},{"p":"1.86c/d","c":"CFS","k":"l","s":1,"t":3.0,"m":0.62},{"p":"1.86c/d","c":"CFS","k":"l","s":1,"t":3.5,"m":0.6},{"p":"1.86c/d","c":"CFS","k":"l","s":1,"t":4.0,"m":0.55},{"p":"1.86c/d","c":"CFS","k":"l","s":1,"t":5.0,"m":0.58},{"p":"1.86c/d","c":"CFS","k":"l","s":1,"t":5.5,"m":0.6},{"p":"1.86c/d","c":"CFS","k":"l","s":1,"t":6.0,"m":0.55},{"p":"1.86c/d","c":"CFS","k":"l","s":1,"t":6.5,"m":0.5},{"p":"1.86c/d","c":"CFS","k":"l","s":1,"t":7.3,"m":0.38},{"p":"1.86c/d","c":"CFS","k":"l","s":1,"t":8.0,"m":0.3},{"p":"1.86c/d","c":"CFS","k":"l","s":1,"t":8.8,"m":0.25},{"p":"1.86c/d","c":"CFS","k":"l","s":1,"t":9.5,"m":0.2},{"p":"1.86c/d","c":"CFS","k":"l","s":1,"t":10.2,"m":0.15},{"p":"1.86c/d","c":"CFS","k":"l","s":1,"t":10.8,"m":0.08},{"p":"1.86c/d","c":"CFS","k":"l","s":1,"t":11.5,"m":0.05},{"p":"1.86c/d","c":"CFS","k":"l","s":1,"t":13.5,"m":0.05},{"p":"1.86c/d","c":"CFS","k":"l","s":1,"t":14.5,"m":0.08},{"p":"1.86c/d","c":"CFS","k":"l","s":1,"t":15.5,"m":0.02},{"p":"1.86c/d","c":"CFS","k":"l","s":1,"t":16.8,"m":-0.05},{"p":"1.86c/d","c":"CFS","k":"l","s":1,"t":17.5,"m":-0.05},
{"p":"1.86c/d","c":"CFS","k":"l","s":2,"t":19.5,"m":-0.05},{"p":"1.86c/d","c":"CFS","k":"l","s":2,"t":21.0,"m":-0.05},
{"p":"1.86c/d","c":"CFS","k":"b","s":1,"t":0.5,"lo":0.1,"hi":0.9},{"p":"1.86c/d","c":"CFS","k":"b","s":1,"t":1.2,"lo":0.25,"hi":0.9},{"p":"1.86c/d","c":"CFS","k":"b","s":1,"t":1.5,"lo":0.25,"hi":1.0},{"p":"1.86c/d","c":"CFS","k":"b","s":1,"t":2.5,"lo":0.3,"hi":0.95},{"p":"1.86c/d","c":"CFS","k":"b","s":1,"t":3.5,"lo":0.25,"hi":1.0},{"p":"1.86c/d","c":"CFS","k":"b","s":1,"t":4.5,"lo":0.2,"hi":0.95},{"p":"1.86c/d","c":"CFS","k":"b","s":1,"t":5.5,"lo":0.1,"hi":0.95},{"p":"1.86c/d","c":"CFS","k":"b","s":1,"t":6.5,"lo":-0.05,"hi":0.85},{"p":"1.86c/d","c":"CFS","k":"b","s":1,"t":7.5,"lo":-0.1,"hi":0.6},{"p":"1.86c/d","c":"CFS","k":"b","s":1,"t":8.5,"lo":-0.05,"hi":0.4},{"p":"1.86c/d","c":"CFS","k":"b","s":1,"t":9.5,"lo":-0.03,"hi":0.3},{"p":"1.86c/d","c":"CFS","k":"b","s":1,"t":11.0,"lo":-0.03,"hi":0.15},{"p":"1.86c/d","c":"CFS","k":"b","s":1,"t":15.0,"lo":-0.03,"hi":0.1},{"p":"1.86c/d","c":"CFS","k":"b","s":1,"t":16.3,"lo":-0.12,"hi":0.05},{"p":"1.86c/d","c":"CFS","k":"b","s":1,"t":17.8,"lo":-0.12,"hi":0.05},
{"p":"1.86c/d","c":"CFS","k":"b","s":2,"t":19.4,"lo":-0.12,"hi":0.05},{"p":"1.86c/d","c":"CFS","k":"b","s":2,"t":21.1,"lo":-0.12,"hi":0.05},

{"p":"2.17c/d","c":"No CFS","k":"l","s":1,"t":0.2,"m":0},{"p":"2.17c/d","c":"No CFS","k":"l","s":1,"t":0.6,"m":0.3},{"p":"2.17c/d","c":"No CFS","k":"l","s":1,"t":0.8,"m":0.65},{"p":"2.17c/d","c":"No CFS","k":"l","s":1,"t":1.3,"m":0.72},{"p":"2.17c/d","c":"No CFS","k":"l","s":1,"t":1.7,"m":0.78},{"p":"2.17c/d","c":"No CFS","k":"l","s":1,"t":3.5,"m":0.75},{"p":"2.17c/d","c":"No CFS","k":"l","s":1,"t":4.0,"m":0.78},{"p":"2.17c/d","c":"No CFS","k":"l","s":1,"t":5.0,"m":0.75},{"p":"2.17c/d","c":"No CFS","k":"l","s":1,"t":5.8,"m":0.7},{"p":"2.17c/d","c":"No CFS","k":"l","s":1,"t":6.2,"m":0.58},{"p":"2.17c/d","c":"No CFS","k":"l","s":1,"t":6.6,"m":0.5},{"p":"2.17c/d","c":"No CFS","k":"l","s":1,"t":7.0,"m":0.35},{"p":"2.17c/d","c":"No CFS","k":"l","s":1,"t":7.3,"m":0.2},{"p":"2.17c/d","c":"No CFS","k":"l","s":1,"t":7.8,"m":0.17},{"p":"2.17c/d","c":"No CFS","k":"l","s":1,"t":8.2,"m":0.2},{"p":"2.17c/d","c":"No CFS","k":"l","s":1,"t":8.4,"m":0.25},{"p":"2.17c/d","c":"No CFS","k":"l","s":1,"t":9.3,"m":0.28},{"p":"2.17c/d","c":"No CFS","k":"l","s":1,"t":9.8,"m":0.22},{"p":"2.17c/d","c":"No CFS","k":"l","s":1,"t":10.2,"m":0.28},{"p":"2.17c/d","c":"No CFS","k":"l","s":1,"t":10.5,"m":0.22},{"p":"2.17c/d","c":"No CFS","k":"l","s":1,"t":11.0,"m":0.1},{"p":"2.17c/d","c":"No CFS","k":"l","s":1,"t":11.5,"m":0.05},{"p":"2.17c/d","c":"No CFS","k":"l","s":1,"t":13.0,"m":0.0},{"p":"2.17c/d","c":"No CFS","k":"l","s":1,"t":13.5,"m":-0.03},{"p":"2.17c/d","c":"No CFS","k":"l","s":1,"t":14.3,"m":0.03},{"p":"2.17c/d","c":"No CFS","k":"l","s":1,"t":14.5,"m":0},
{"p":"2.17c/d","c":"No CFS","k":"l","s":2,"t":15.8,"m":0},{"p":"2.17c/d","c":"No CFS","k":"l","s":2,"t":16.0,"m":0.05},{"p":"2.17c/d","c":"No CFS","k":"l","s":2,"t":16.3,"m":0},
{"p":"2.17c/d","c":"No CFS","k":"l","s":3,"t":16.6,"m":0},{"p":"2.17c/d","c":"No CFS","k":"l","s":3,"t":16.7,"m":0.1},{"p":"2.17c/d","c":"No CFS","k":"l","s":3,"t":17.2,"m":0},
{"p":"2.17c/d","c":"No CFS","k":"l","s":4,"t":19.5,"m":0},{"p":"2.17c/d","c":"No CFS","k":"l","s":4,"t":20.5,"m":0},
{"p":"2.17c/d","c":"No CFS","k":"l","s":5,"t":24.2,"m":0},{"p":"2.17c/d","c":"No CFS","k":"l","s":5,"t":24.4,"m":0.05},{"p":"2.17c/d","c":"No CFS","k":"l","s":5,"t":25.0,"m":0},
{"p":"2.17c/d","c":"No CFS","k":"l","s":6,"t":28.8,"m":0},{"p":"2.17c/d","c":"No CFS","k":"l","s":6,"t":28.9,"m":0.05},{"p":"2.17c/d","c":"No CFS","k":"l","s":6,"t":29.8,"m":0.05},
{"p":"2.17c/d","c":"No CFS","k":"b","s":1,"t":0.3,"lo":-0.2,"hi":0.05},{"p":"2.17c/d","c":"No CFS","k":"b","s":1,"t":0.8,"lo":0.25,"hi":1.0},{"p":"2.17c/d","c":"No CFS","k":"b","s":1,"t":1.5,"lo":0.25,"hi":1.05},{"p":"2.17c/d","c":"No CFS","k":"b","s":1,"t":2.5,"lo":0.3,"hi":1.08},{"p":"2.17c/d","c":"No CFS","k":"b","s":1,"t":3.0,"lo":0.35,"hi":1.08},{"p":"2.17c/d","c":"No CFS","k":"b","s":1,"t":4.0,"lo":0.4,"hi":1.05},{"p":"2.17c/d","c":"No CFS","k":"b","s":1,"t":6.0,"lo":0.15,"hi":0.85},{"p":"2.17c/d","c":"No CFS","k":"b","s":1,"t":7.0,"lo":-0.05,"hi":0.5},{"p":"2.17c/d","c":"No CFS","k":"b","s":1,"t":9.0,"lo":-0.1,"hi":0.45},{"p":"2.17c/d","c":"No CFS","k":"b","s":1,"t":10.0,"lo":-0.15,"hi":0.4},{"p":"2.17c/d","c":"No CFS","k":"b","s":1,"t":11.0,"lo":-0.2,"hi":0.2},{"p":"2.17c/d","c":"No CFS","k":"b","s":1,"t":12.0,"lo":-0.2,"hi":0.15},{"p":"2.17c/d","c":"No CFS","k":"b","s":1,"t":14.5,"lo":-0.2,"hi":0.15},
{"p":"2.17c/d","c":"No CFS","k":"b","s":2,"t":15.5,"lo":-0.15,"hi":0.2},{"p":"2.17c/d","c":"No CFS","k":"b","s":2,"t":17.5,"lo":-0.15,"hi":0.2},
{"p":"2.17c/d","c":"No CFS","k":"b","s":3,"t":19.3,"lo":0.0,"hi":0.15},{"p":"2.17c/d","c":"No CFS","k":"b","s":3,"t":20.6,"lo":0.0,"hi":0.15},
{"p":"2.17c/d","c":"No CFS","k":"b","s":4,"t":24.2,"lo":0.0,"hi":0.15},{"p":"2.17c/d","c":"No CFS","k":"b","s":4,"t":25.0,"lo":0.0,"hi":0.15},
{"p":"2.17c/d","c":"No CFS","k":"b","s":5,"t":28.8,"lo":0.0,"hi":0.15},{"p":"2.17c/d","c":"No CFS","k":"b","s":5,"t":29.8,"lo":0.0,"hi":0.15},
{"p":"2.17c/d","c":"CFS","k":"l","s":1,"t":0.4,"m":0},{"p":"2.17c/d","c":"CFS","k":"l","s":1,"t":0.8,"m":0.5},{"p":"2.17c/d","c":"CFS","k":"l","s":1,"t":1.2,"m":0.72},{"p":"2.17c/d","c":"CFS","k":"l","s":1,"t":1.5,"m":0.65},{"p":"2.17c/d","c":"CFS","k":"l","s":1,"t":2.0,"m":0.6},{"p":"2.17c/d","c":"CFS","k":"l","s":1,"t":2.6,"m":0.55},{"p":"2.17c/d","c":"CFS","k":"l","s":1,"t":3.5,"m":0.5},{"p":"2.17c/d","c":"CFS","k":"l","s":1,"t":4.0,"m":0.45},{"p":"2.17c/d","c":"CFS","k":"l","s":1,"t":4.5,"m":0.5},{"p":"2.17c/d","c":"CFS","k":"l","s":1,"t":5.5,"m":0.45},{"p":"2.17c/d","c":"CFS","k":"l","s":1,"t":6.0,"m":0.4},{"p":"2.17c/d","c":"CFS","k":"l","s":1,"t":6.5,"m":0.3},{"p":"2.17c/d","c":"CFS","k":"l","s":1,"t":7.0,"m":0.25},{"p":"2.17c/d","c":"CFS","k":"l","s":1,"t":7.5,"m":0.2},{"p":"2.17c/d","c":"CFS","k":"l","s":1,"t":8.5,"m":0.22},{"p":"2.17c/d","c":"CFS","k":"l","s":1,"t":9.0,"m":0.15},{"p":"2.17c/d","c":"CFS","k":"l","s":1,"t":10.5,"m":0.1},{"p":"2.17c/d","c":"CFS","k":"l","s":1,"t":11.5,"m":0.05},{"p":"2.17c/d","c":"CFS","k":"l","s":1,"t":12.5,"m":0.0},{"p":"2.17c/d","c":"CFS","k":"l","s":1,"t":13.0,"m":0.0},
{"p":"2.17c/d","c":"CFS","k":"l","s":2,"t":19.5,"m":0.05},{"p":"2.17c/d","c":"CFS","k":"l","s":2,"t":20.5,"m":0.05},
{"p":"2.17c/d","c":"CFS","k":"b","s":1,"t":0.8,"lo":0.3,"hi":1.08},{"p":"2.17c/d","c":"CFS","k":"b","s":1,"t":1.5,"lo":0.25,"hi":1.0},{"p":"2.17c/d","c":"CFS","k":"b","s":1,"t":2.5,"lo":0.25,"hi":0.85},{"p":"2.17c/d","c":"CFS","k":"b","s":1,"t":3.0,"lo":0.2,"hi":0.85},{"p":"2.17c/d","c":"CFS","k":"b","s":1,"t":3.5,"lo":0.2,"hi":0.7},{"p":"2.17c/d","c":"CFS","k":"b","s":1,"t":5.0,"lo":0.15,"hi":0.65},{"p":"2.17c/d","c":"CFS","k":"b","s":1,"t":6.0,"lo":0.15,"hi":0.55},{"p":"2.17c/d","c":"CFS","k":"b","s":1,"t":6.5,"lo":0.0,"hi":0.55},{"p":"2.17c/d","c":"CFS","k":"b","s":1,"t":7.0,"lo":0.0,"hi":0.45},{"p":"2.17c/d","c":"CFS","k":"b","s":1,"t":7.5,"lo":-0.05,"hi":0.45},{"p":"2.17c/d","c":"CFS","k":"b","s":1,"t":8.0,"lo":-0.05,"hi":0.5},{"p":"2.17c/d","c":"CFS","k":"b","s":1,"t":9.0,"lo":-0.08,"hi":0.4},{"p":"2.17c/d","c":"CFS","k":"b","s":1,"t":10.5,"lo":-0.05,"hi":0.3},{"p":"2.17c/d","c":"CFS","k":"b","s":1,"t":11.5,"lo":-0.05,"hi":0.1},{"p":"2.17c/d","c":"CFS","k":"b","s":1,"t":12.0,"lo":-0.05,"hi":0.1},
{"p":"2.17c/d","c":"CFS","k":"b","s":2,"t":19.2,"lo":0.0,"hi":0.15},{"p":"2.17c/d","c":"CFS","k":"b","s":2,"t":20.7,"lo":0.0,"hi":0.15}
]},
"columns": 3,
"spacing": {"row": 77, "column": 54},
"bounds": "flush",
"resolve": {"scale": {"fill": "shared", "strokeDash": "shared"}},
"concat": [
{"width": 240, "height": 194, "transform": [{"filter": "datum.p == '0.31c/d'"}], "resolve": {"axis": {"x": "independent"}}, "layer": [
 {"transform": [{"filter": "datum.k == 'b' && datum.c == 'No CFS'"}], "mark": {"type": "area", "interpolate": "step-after", "opacity": 0.6}, "encoding": {"x": {"field": "t", "type": "quantitative", "title": null, "scale": {"domain": [-1.45, 31.45], "nice": false, "zero": false}, "axis": {"values": [0,5,10,15,20,25,30]}}, "y": {"field": "lo", "type": "quantitative", "title": null, "scale": {"domain": [-1.13, 1.65], "nice": false, "zero": false}, "axis": {"values": [-1,-0.5,0,0.5,1,1.5], "format": ".1f"}}, "y2": {"field": "hi"}, "fill": {"field": "c", "type": "nominal", "title": "Conditions", "scale": {"domain": ["No CFS", "CFS"], "range": ["#bebebe", "#707070"]}, "legend": {"symbolType": "square", "symbolStrokeWidth": 0}}, "detail": {"field": "s"}}},
 {"transform": [{"filter": "datum.k == 'b' && datum.c == 'CFS'"}], "mark": {"type": "area", "interpolate": "step-after", "opacity": 0.6}, "encoding": {"x": {"field": "t", "type": "quantitative", "axis": null}, "y": {"field": "lo", "type": "quantitative", "title": null}, "y2": {"field": "hi"}, "fill": {"field": "c", "type": "nominal", "title": "Conditions"}, "detail": {"field": "s"}}},
 {"transform": [{"aggregate": [{"op": "count", "as": "n"}]}], "mark": {"type": "rule", "color": "#111111", "strokeWidth": 1.1}, "encoding": {"y": {"datum": 0, "type": "quantitative"}}},
 {"transform": [{"filter": "datum.k == 'l'"}], "mark": {"type": "line", "interpolate": "step-after", "color": "#000000", "strokeWidth": 1.1}, "encoding": {"x": {"field": "t", "type": "quantitative", "axis": null}, "y": {"field": "m", "type": "quantitative", "title": null}, "strokeDash": {"field": "c", "type": "nominal", "sort": ["No CFS", "CFS"], "scale": {"range": [[1, 0], [1.5, 3]]}, "legend": {"title": null, "symbolType": "stroke", "symbolSize": 484, "symbolStrokeColor": "#000000", "symbolStrokeWidth": 1.3, "labelExpr": "''", "labelOffset": 0, "columnPadding": 99, "legendX": 369.5, "legendY": 829.5}}, "detail": {"field": "s"}}},
 {"transform": [{"aggregate": [{"op": "count", "as": "n"}]}], "mark": {"type": "rule", "opacity": 0}, "encoding": {"x": {"datum": 0, "type": "quantitative", "axis": {"orient": "top", "title": "0.31c/d", "labels": false, "ticks": false, "domain": false, "titleFontSize": 20, "titleColor": "#1a1a1a", "titlePadding": 7}}}}
]},
{"width": 240, "height": 194, "transform": [{"filter": "datum.p == '0.62c/d'"}], "resolve": {"axis": {"x": "independent"}}, "layer": [
 {"transform": [{"filter": "datum.k == 'b' && datum.c == 'No CFS'"}], "mark": {"type": "area", "interpolate": "step-after", "opacity": 0.6}, "encoding": {"x": {"field": "t", "type": "quantitative", "title": null, "scale": {"domain": [-1.45, 31.45], "nice": false, "zero": false}, "axis": {"values": [0,5,10,15,20,25,30]}}, "y": {"field": "lo", "type": "quantitative", "title": null, "scale": {"domain": [-1.13, 1.65], "nice": false, "zero": false}, "axis": {"values": [-1,-0.5,0,0.5,1,1.5], "format": ".1f"}}, "y2": {"field": "hi"}, "fill": {"field": "c", "type": "nominal", "title": "Conditions", "scale": {"domain": ["No CFS", "CFS"], "range": ["#bebebe", "#707070"]}, "legend": {"symbolType": "square", "symbolStrokeWidth": 0}}, "detail": {"field": "s"}}},
 {"transform": [{"filter": "datum.k == 'b' && datum.c == 'CFS'"}], "mark": {"type": "area", "interpolate": "step-after", "opacity": 0.6}, "encoding": {"x": {"field": "t", "type": "quantitative", "axis": null}, "y": {"field": "lo", "type": "quantitative", "title": null}, "y2": {"field": "hi"}, "fill": {"field": "c", "type": "nominal", "title": "Conditions"}, "detail": {"field": "s"}}},
 {"transform": [{"aggregate": [{"op": "count", "as": "n"}]}], "mark": {"type": "rule", "color": "#111111", "strokeWidth": 1.1}, "encoding": {"y": {"datum": 0, "type": "quantitative"}}},
 {"transform": [{"filter": "datum.k == 'l'"}], "mark": {"type": "line", "interpolate": "step-after", "color": "#000000", "strokeWidth": 1.1}, "encoding": {"x": {"field": "t", "type": "quantitative", "axis": null}, "y": {"field": "m", "type": "quantitative", "title": null}, "strokeDash": {"field": "c", "type": "nominal", "sort": ["No CFS", "CFS"], "scale": {"range": [[1, 0], [1.5, 3]]}, "legend": {"title": null, "symbolType": "stroke", "symbolSize": 484, "symbolStrokeColor": "#000000", "symbolStrokeWidth": 1.3, "labelExpr": "''", "labelOffset": 0, "columnPadding": 99, "legendX": 369.5, "legendY": 829.5}}, "detail": {"field": "s"}}},
 {"transform": [{"aggregate": [{"op": "count", "as": "n"}]}], "mark": {"type": "rule", "opacity": 0}, "encoding": {"x": {"datum": 0, "type": "quantitative", "axis": {"orient": "top", "title": "0.62c/d", "labels": false, "ticks": false, "domain": false, "titleFontSize": 20, "titleColor": "#1a1a1a", "titlePadding": 7}}}}
]},
{"width": 240, "height": 194, "transform": [{"filter": "datum.p == '0.93c/d'"}], "resolve": {"axis": {"x": "independent"}}, "layer": [
 {"transform": [{"filter": "datum.k == 'b' && datum.c == 'No CFS'"}], "mark": {"type": "area", "interpolate": "step-after", "opacity": 0.6}, "encoding": {"x": {"field": "t", "type": "quantitative", "title": null, "scale": {"domain": [-1.45, 31.45], "nice": false, "zero": false}, "axis": {"values": [0,5,10,15,20,25,30]}}, "y": {"field": "lo", "type": "quantitative", "title": null, "scale": {"domain": [-1.13, 1.65], "nice": false, "zero": false}, "axis": {"values": [-1,-0.5,0,0.5,1,1.5], "format": ".1f"}}, "y2": {"field": "hi"}, "fill": {"field": "c", "type": "nominal", "title": "Conditions", "scale": {"domain": ["No CFS", "CFS"], "range": ["#bebebe", "#707070"]}, "legend": {"symbolType": "square", "symbolStrokeWidth": 0}}, "detail": {"field": "s"}}},
 {"transform": [{"filter": "datum.k == 'b' && datum.c == 'CFS'"}], "mark": {"type": "area", "interpolate": "step-after", "opacity": 0.6}, "encoding": {"x": {"field": "t", "type": "quantitative", "axis": null}, "y": {"field": "lo", "type": "quantitative", "title": null}, "y2": {"field": "hi"}, "fill": {"field": "c", "type": "nominal", "title": "Conditions"}, "detail": {"field": "s"}}},
 {"transform": [{"aggregate": [{"op": "count", "as": "n"}]}], "mark": {"type": "rule", "color": "#111111", "strokeWidth": 1.1}, "encoding": {"y": {"datum": 0, "type": "quantitative"}}},
 {"transform": [{"filter": "datum.k == 'l'"}], "mark": {"type": "line", "interpolate": "step-after", "color": "#000000", "strokeWidth": 1.1}, "encoding": {"x": {"field": "t", "type": "quantitative", "axis": null}, "y": {"field": "m", "type": "quantitative", "title": null}, "strokeDash": {"field": "c", "type": "nominal", "sort": ["No CFS", "CFS"], "scale": {"range": [[1, 0], [1.5, 3]]}, "legend": {"title": null, "symbolType": "stroke", "symbolSize": 484, "symbolStrokeColor": "#000000", "symbolStrokeWidth": 1.3, "labelExpr": "''", "labelOffset": 0, "columnPadding": 99, "legendX": 369.5, "legendY": 829.5}}, "detail": {"field": "s"}}},
 {"transform": [{"aggregate": [{"op": "count", "as": "n"}]}], "mark": {"type": "rule", "opacity": 0}, "encoding": {"x": {"datum": 0, "type": "quantitative", "axis": {"orient": "top", "title": "0.93c/d", "labels": false, "ticks": false, "domain": false, "titleFontSize": 20, "titleColor": "#1a1a1a", "titlePadding": 7}}}}
]},
{"width": 240, "height": 194, "transform": [{"filter": "datum.p == '1.24c/d'"}], "resolve": {"axis": {"x": "independent"}}, "layer": [
 {"transform": [{"filter": "datum.k == 'b' && datum.c == 'No CFS'"}], "mark": {"type": "area", "interpolate": "step-after", "opacity": 0.6}, "encoding": {"x": {"field": "t", "type": "quantitative", "title": null, "scale": {"domain": [-1.45, 31.45], "nice": false, "zero": false}, "axis": {"values": [0,5,10,15,20,25,30]}}, "y": {"field": "lo", "type": "quantitative", "title": "MAE response (reverse minus forward)", "scale": {"domain": [-1.13, 1.65], "nice": false, "zero": false}, "axis": {"values": [-1,-0.5,0,0.5,1,1.5], "format": ".1f", "titlePadding": 7}}, "y2": {"field": "hi"}, "fill": {"field": "c", "type": "nominal", "title": "Conditions", "scale": {"domain": ["No CFS", "CFS"], "range": ["#bebebe", "#707070"]}, "legend": {"symbolType": "square", "symbolStrokeWidth": 0}}, "detail": {"field": "s"}}},
 {"transform": [{"filter": "datum.k == 'b' && datum.c == 'CFS'"}], "mark": {"type": "area", "interpolate": "step-after", "opacity": 0.6}, "encoding": {"x": {"field": "t", "type": "quantitative", "axis": null}, "y": {"field": "lo", "type": "quantitative", "title": "MAE response (reverse minus forward)"}, "y2": {"field": "hi"}, "fill": {"field": "c", "type": "nominal", "title": "Conditions"}, "detail": {"field": "s"}}},
 {"transform": [{"aggregate": [{"op": "count", "as": "n"}]}], "mark": {"type": "rule", "color": "#111111", "strokeWidth": 1.1}, "encoding": {"y": {"datum": 0, "type": "quantitative"}}},
 {"transform": [{"filter": "datum.k == 'l'"}], "mark": {"type": "line", "interpolate": "step-after", "color": "#000000", "strokeWidth": 1.1}, "encoding": {"x": {"field": "t", "type": "quantitative", "axis": null}, "y": {"field": "m", "type": "quantitative", "title": "MAE response (reverse minus forward)"}, "strokeDash": {"field": "c", "type": "nominal", "sort": ["No CFS", "CFS"], "scale": {"range": [[1, 0], [1.5, 3]]}, "legend": {"title": null, "symbolType": "stroke", "symbolSize": 484, "symbolStrokeColor": "#000000", "symbolStrokeWidth": 1.3, "labelExpr": "''", "labelOffset": 0, "columnPadding": 99, "legendX": 369.5, "legendY": 829.5}}, "detail": {"field": "s"}}},
 {"transform": [{"aggregate": [{"op": "count", "as": "n"}]}], "mark": {"type": "rule", "opacity": 0}, "encoding": {"x": {"datum": 0, "type": "quantitative", "axis": {"orient": "top", "title": "1.24c/d", "labels": false, "ticks": false, "domain": false, "titleFontSize": 20, "titleColor": "#1a1a1a", "titlePadding": 7}}}}
]},
{"width": 240, "height": 194, "transform": [{"filter": "datum.p == '1.55c/d'"}], "resolve": {"axis": {"x": "independent"}}, "layer": [
 {"transform": [{"filter": "datum.k == 'b' && datum.c == 'No CFS'"}], "mark": {"type": "area", "interpolate": "step-after", "opacity": 0.6}, "encoding": {"x": {"field": "t", "type": "quantitative", "title": null, "scale": {"domain": [-1.45, 31.45], "nice": false, "zero": false}, "axis": {"values": [0,5,10,15,20,25,30]}}, "y": {"field": "lo", "type": "quantitative", "title": null, "scale": {"domain": [-1.13, 1.65], "nice": false, "zero": false}, "axis": {"values": [-1,-0.5,0,0.5,1,1.5], "format": ".1f"}}, "y2": {"field": "hi"}, "fill": {"field": "c", "type": "nominal", "title": "Conditions", "scale": {"domain": ["No CFS", "CFS"], "range": ["#bebebe", "#707070"]}, "legend": {"symbolType": "square", "symbolStrokeWidth": 0}}, "detail": {"field": "s"}}},
 {"transform": [{"filter": "datum.k == 'b' && datum.c == 'CFS'"}], "mark": {"type": "area", "interpolate": "step-after", "opacity": 0.6}, "encoding": {"x": {"field": "t", "type": "quantitative", "axis": null}, "y": {"field": "lo", "type": "quantitative", "title": null}, "y2": {"field": "hi"}, "fill": {"field": "c", "type": "nominal", "title": "Conditions"}, "detail": {"field": "s"}}},
 {"transform": [{"aggregate": [{"op": "count", "as": "n"}]}], "mark": {"type": "rule", "color": "#111111", "strokeWidth": 1.1}, "encoding": {"y": {"datum": 0, "type": "quantitative"}}},
 {"transform": [{"filter": "datum.k == 'l'"}], "mark": {"type": "line", "interpolate": "step-after", "color": "#000000", "strokeWidth": 1.1}, "encoding": {"x": {"field": "t", "type": "quantitative", "axis": null}, "y": {"field": "m", "type": "quantitative", "title": null}, "strokeDash": {"field": "c", "type": "nominal", "sort": ["No CFS", "CFS"], "scale": {"range": [[1, 0], [1.5, 3]]}, "legend": {"title": null, "symbolType": "stroke", "symbolSize": 484, "symbolStrokeColor": "#000000", "symbolStrokeWidth": 1.3, "labelExpr": "''", "labelOffset": 0, "columnPadding": 99, "legendX": 369.5, "legendY": 829.5}}, "detail": {"field": "s"}}},
 {"transform": [{"aggregate": [{"op": "count", "as": "n"}]}], "mark": {"type": "rule", "opacity": 0}, "encoding": {"x": {"datum": 0, "type": "quantitative", "axis": {"orient": "top", "title": "1.55c/d", "labels": false, "ticks": false, "domain": false, "titleFontSize": 20, "titleColor": "#1a1a1a", "titlePadding": 7}}}}
]},
{"width": 240, "height": 194, "transform": [{"filter": "datum.p == '1.86c/d'"}], "resolve": {"axis": {"x": "independent"}}, "layer": [
 {"transform": [{"filter": "datum.k == 'b' && datum.c == 'No CFS'"}], "mark": {"type": "area", "interpolate": "step-after", "opacity": 0.6}, "encoding": {"x": {"field": "t", "type": "quantitative", "title": null, "scale": {"domain": [-1.45, 31.45], "nice": false, "zero": false}, "axis": {"values": [0,5,10,15,20,25,30]}}, "y": {"field": "lo", "type": "quantitative", "title": null, "scale": {"domain": [-1.13, 1.65], "nice": false, "zero": false}, "axis": {"values": [-1,-0.5,0,0.5,1,1.5], "format": ".1f"}}, "y2": {"field": "hi"}, "fill": {"field": "c", "type": "nominal", "title": "Conditions", "scale": {"domain": ["No CFS", "CFS"], "range": ["#bebebe", "#707070"]}, "legend": {"symbolType": "square", "symbolStrokeWidth": 0}}, "detail": {"field": "s"}}},
 {"transform": [{"filter": "datum.k == 'b' && datum.c == 'CFS'"}], "mark": {"type": "area", "interpolate": "step-after", "opacity": 0.6}, "encoding": {"x": {"field": "t", "type": "quantitative", "axis": null}, "y": {"field": "lo", "type": "quantitative", "title": null}, "y2": {"field": "hi"}, "fill": {"field": "c", "type": "nominal", "title": "Conditions"}, "detail": {"field": "s"}}},
 {"transform": [{"aggregate": [{"op": "count", "as": "n"}]}], "mark": {"type": "rule", "color": "#111111", "strokeWidth": 1.1}, "encoding": {"y": {"datum": 0, "type": "quantitative"}}},
 {"transform": [{"filter": "datum.k == 'l'"}], "mark": {"type": "line", "interpolate": "step-after", "color": "#000000", "strokeWidth": 1.1}, "encoding": {"x": {"field": "t", "type": "quantitative", "axis": null}, "y": {"field": "m", "type": "quantitative", "title": null}, "strokeDash": {"field": "c", "type": "nominal", "sort": ["No CFS", "CFS"], "scale": {"range": [[1, 0], [1.5, 3]]}, "legend": {"title": null, "symbolType": "stroke", "symbolSize": 484, "symbolStrokeColor": "#000000", "symbolStrokeWidth": 1.3, "labelExpr": "''", "labelOffset": 0, "columnPadding": 99, "legendX": 369.5, "legendY": 829.5}}, "detail": {"field": "s"}}},
 {"transform": [{"aggregate": [{"op": "count", "as": "n"}]}], "mark": {"type": "rule", "opacity": 0}, "encoding": {"x": {"datum": 0, "type": "quantitative", "axis": {"orient": "top", "title": "1.86c/d", "labels": false, "ticks": false, "domain": false, "titleFontSize": 20, "titleColor": "#1a1a1a", "titlePadding": 7}}}}
]},
{"width": 240, "height": 194, "transform": [{"filter": "datum.p == '2.17c/d'"}], "resolve": {"axis": {"x": "independent"}}, "layer": [
 {"transform": [{"filter": "datum.k == 'b' && datum.c == 'No CFS'"}], "mark": {"type": "area", "interpolate": "step-after", "opacity": 0.6}, "encoding": {"x": {"field": "t", "type": "quantitative", "title": null, "scale": {"domain": [-1.45, 31.45], "nice": false, "zero": false}, "axis": {"values": [0,5,10,15,20,25,30]}}, "y": {"field": "lo", "type": "quantitative", "title": null, "scale": {"domain": [-1.13, 1.65], "nice": false, "zero": false}, "axis": {"values": [-1,-0.5,0,0.5,1,1.5], "format": ".1f"}}, "y2": {"field": "hi"}, "fill": {"field": "c", "type": "nominal", "title": "Conditions", "scale": {"domain": ["No CFS", "CFS"], "range": ["#bebebe", "#707070"]}, "legend": {"symbolType": "square", "symbolStrokeWidth": 0}}, "detail": {"field": "s"}}},
 {"transform": [{"filter": "datum.k == 'b' && datum.c == 'CFS'"}], "mark": {"type": "area", "interpolate": "step-after", "opacity": 0.6}, "encoding": {"x": {"field": "t", "type": "quantitative", "axis": null}, "y": {"field": "lo", "type": "quantitative", "title": null}, "y2": {"field": "hi"}, "fill": {"field": "c", "type": "nominal", "title": "Conditions"}, "detail": {"field": "s"}}},
 {"transform": [{"aggregate": [{"op": "count", "as": "n"}]}], "mark": {"type": "rule", "color": "#111111", "strokeWidth": 1.1}, "encoding": {"y": {"datum": 0, "type": "quantitative"}}},
 {"transform": [{"filter": "datum.k == 'l'"}], "mark": {"type": "line", "interpolate": "step-after", "color": "#000000", "strokeWidth": 1.1}, "encoding": {"x": {"field": "t", "type": "quantitative", "axis": null}, "y": {"field": "m", "type": "quantitative", "title": null}, "strokeDash": {"field": "c", "type": "nominal", "sort": ["No CFS", "CFS"], "scale": {"range": [[1, 0], [1.5, 3]]}, "legend": {"title": null, "symbolType": "stroke", "symbolSize": 484, "symbolStrokeColor": "#000000", "symbolStrokeWidth": 1.3, "labelExpr": "''", "labelOffset": 0, "columnPadding": 99, "legendX": 369.5, "legendY": 829.5}}, "detail": {"field": "s"}}},
 {"transform": [{"aggregate": [{"op": "count", "as": "n"}]}], "mark": {"type": "rule", "opacity": 0}, "encoding": {"x": {"datum": 0, "type": "quantitative", "axis": {"orient": "top", "title": "2.17c/d", "labels": false, "ticks": false, "domain": false, "titleFontSize": 20, "titleColor": "#1a1a1a", "titlePadding": 7}}}}
]},
{"width": 240, "height": 194, "transform": [{"filter": "datum.k == 'l' && datum.p == '2.17c/d'"}], "mark": {"type": "point", "opacity": 0}, "encoding": {"x": {"field": "t", "type": "quantitative", "title": "Time(s)", "scale": {"domain": [-1.45, 31.45], "nice": false, "zero": false}, "axis": {"labels": false, "ticks": false, "domain": false, "titlePadding": 36}}}}
]
}
